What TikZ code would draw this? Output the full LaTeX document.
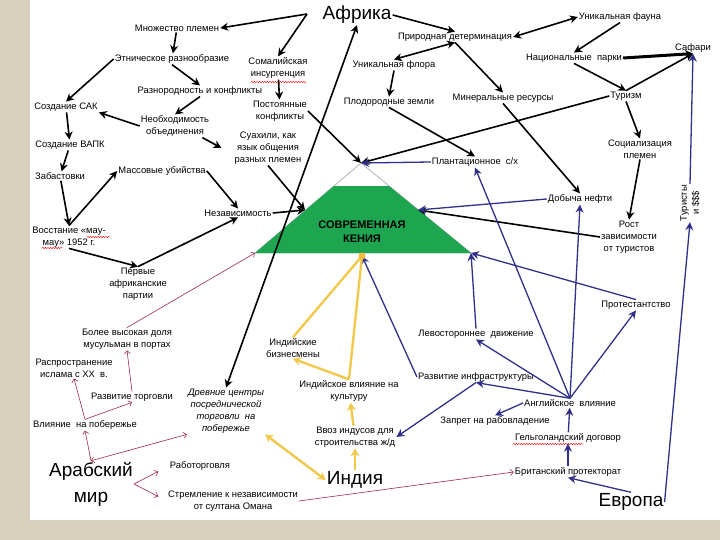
\documentclass[tikz,border=0pt]{standalone}
\usepackage{fontspec}
\setmainfont{Liberation Sans}
\usepackage{tikz}
\usetikzlibrary{arrows.meta,calc,decorations.pathmorphing}
\definecolor{kblue}{HTML}{30308A}
\definecolor{kyellow}{HTML}{F2C94C}
\definecolor{kred}{HTML}{A02846}
\definecolor{kgreen}{HTML}{1EA550}
\definecolor{kbeige}{HTML}{D8CFBD}
\tikzset{
  txt/.style    = {align=center, inner sep=1pt, font=\fontsize{9.4}{12}\selectfont},
  bigtxt/.style = {txt, font=\fontsize{19}{26}\selectfont},
  ittxt/.style  = {txt, font=\fontsize{9.4}{12}\selectfont\itshape},
  blk/.style    = {draw=black, line width=1.6pt, ->, >={Stealth[length=8pt,width=8pt]}},
  blu/.style    = {draw=kblue, line width=1.3pt, ->, >={Stealth[length=8pt,width=8pt]}},
  ylw/.style    = {draw=kyellow, line width=2.4pt, ->, >={Stealth[length=8pt,width=9pt]}},
  rd/.style     = {draw=kred, line width=0.6pt, ->, >={Straight Barb[length=3pt,width=6pt]}},
  squig/.style  = {draw=red, line width=0.4pt, decorate,
                   decoration={snake, amplitude=0.7pt, segment length=2.6pt}}
}

\begin{document}
\begin{tikzpicture}[x=1pt,y=-1pt]
 \useasboundingbox (0,0) rectangle (720,540);
 \fill[kbeige] (0,0) rectangle (30,540);
 \fill[kbeige] (0,520) rectangle (720,540);

 % triangle
 \coordinate (tA) at (361,163);
 \coordinate (tBL) at (255,253);
 \coordinate (tBR) at (471,253);
 \coordinate (tB) at (362,256);
 \coordinate (tLe) at (305,210);
 \coordinate (tRe) at (418,210);
 \coordinate (afrL) at (307,14);
 \draw[gray!60, line width=0.8pt] (tA) -- (tBL) -- (tBR) -- cycle;
 \fill[kgreen] (tBL) -- ($(tBL)!0.744!(tA)$) -- ($(tBR)!0.744!(tA)$) -- (tBR) -- cycle;
 \node[font=\bfseries\fontsize{11}{14}\selectfont, align=center] (kenya) at (362,232) {СОВРЕМЕННАЯ\\КЕНИЯ};

 % Africa
 \node[bigtxt] (afr) at (357,15) {Африка};
 \node[txt] (mnozh) at (177,28) {Множество племен};
 \node[txt] (etnich) at (172,59) {Этническое разнообразие};
 \node[txt] (somal) at (278,68) {Сомалийская\\инсургенция};
 \node[txt] (raznor) at (200,91) {Разнородность и конфликты};
 \node[txt] (sak) at (66,107) {Создание САК};
 \node[txt] (neobh) at (175,126) {Необходимость\\объединения};
 \node[txt] (postoyan) at (280,111) {Постоянные\\конфликты};
 \node[txt] (vapk) at (70,145) {Создание ВАПК};
 \node[txt] (suah) at (268,148) {Суахили, как\\язык общения\\разных племен};
 \node[txt] (zabast) at (60,176) {Забастовки};
 \node[txt] (massov) at (162,171) {Массовые убийства};
 \node[txt] (nezav) at (238,213) {Независимость};
 \node[txt] (vosst) at (69,237) {Восстание «мау-\\мау» 1952 г.};
 \node[txt] (partii) at (138,284) {Первые\\африканские\\партии};
 \node[txt] (prirod) at (455,37) {Природная детерминация};
 \node[txt] (fauna) at (620,17) {Уникальная фауна};
 \node[txt] (flora) at (394,65) {Уникальная флора};
 \node[txt] (parki) at (574,58) {Национальные\ \ парки};
 \node[txt] (safari) at (693,48) {Сафари};
 \node[txt] (plodor) at (389,102) {Плодородные земли};
 \node[txt] (mineral) at (503,98) {Минеральные ресурсы};
 \node[txt] (turizm) at (626,96) {Туризм};
 \node[txt] (plant) at (475,162) {Плантационное\ \ с/х};
 \node[txt] (sotsial) at (640,149) {Социализация\\племен};
 \node[txt] (neft) at (580,199) {Добыча нефти};
 \node[txt] (rost) at (629,237) {Рост\\зависимости\\от туристов};
 \node[txt, rotate=90] (turisty) at (690,203) {Туристы\\и \$\$\$};

 % Europe
 \node[txt] (protest) at (636,305) {Протестантство};
 \node[txt] (levost) at (476,334) {Левостороннее\ \ движение};
 \node[txt] (infra) at (476,377) {Развитие инфраструктуры};
 \node[txt] (angl) at (570,403) {Английское\ \ влияние};
 \node[txt] (zapret) at (495,421) {Запрет на рабовладение};
 \node[txt] (gelgo) at (568,438) {Гельголандский договор};
 \node[txt] (protekt) at (568,472) {Британский протекторат};
 \node[bigtxt] (evropa) at (631,502) {Европа};

 % India
 \node[txt] (indbiz) at (293,348) {Индийские\\бизнесмены};
 \node[txt] (indvl) at (349,391) {Индийское влияние на\\культуру};
 \node[txt] (vvoz) at (355,437) {Ввоз индусов для\\строительства ж/д};
 \node[bigtxt] (india) at (355,480) {Индия};
 \node[ittxt] (drevn) at (226,411) {Древние центры\\посреднической\\торговли\ \ на\\побережье};

 % Arab world
 \node[txt] (musulm) at (127,339) {Более высокая доля\\мусульман в портах};
 \node[txt] (islam) at (74,368) {Распространение\\ислама с XX\ \ в.};
 \node[txt] (torg) at (132,397) {Развитие торговли};
 \node[txt] (vliyan) at (85,425) {Влияние\ \ на побережье};
 \node[bigtxt] (arab) at (91,484) {Арабский\\мир};
 \node[txt] (rabot) at (200,466) {Работорговля};
 \node[txt] (stremlen) at (233,501) {Стремление к независимости\\от султана Омана};

 \draw[squig] (251,82) -- (306,82);
 \draw[squig] (87,237) -- (110,237);
 \draw[squig] (42,248) -- (63,248);
 \draw[squig] (513,444) -- (583,444);

 % black
 \draw[blk] (afrL) -- (mnozh.east);
 \draw[blk] (afrL) -- (somal.north);
 \draw[blk] (mnozh) -- (etnich);
 \draw[blk] (etnich.west) -- (sak.north);
 \draw[blk] (etnich.south) -- (raznor.north);
 \draw[blk] (somal) -- (postoyan);
 \draw[blk] (raznor.south) -- (neobh.north);
 \draw[blk] (neobh.west) -- (sak.south east);
 \draw[blk] (sak) -- (vapk);
 \draw[blk] (vapk) -- (zabast);
 \draw[blk] (zabast) -- (vosst.north);
 \draw[blk] (vosst.north) -- (massov.west);
 \draw[blk] (massov.east) -- (nezav.north);
 \draw[blk] ([xshift=-8pt]neobh.south east) -- ([xshift=-12pt]suah.west);
 \draw[blk] (nezav.east) -- (tLe);
 \draw[blk] (suah.south) -- (tLe);
 \draw[blk] (vosst.south) -- (partii.north);
 \draw[blk] (partii.north) -- (nezav.south);
 \draw[blk] (postoyan.east) -- (tA);
 \draw[blk] (afr.east) -- (prirod.north);
 \draw[blk, <->] (prirod.east) -- (fauna.west);
 \draw[blk] (fauna.south) -- (parki.north);
 \draw[blk, <->] (flora.north) -- (prirod.south);
 \draw[blk] (prirod.south) -- (mineral.north);
 \draw[blk] (flora.south) -- (plodor.north);
 \draw[blk, line width=3pt] (parki.east) -- (safari.south);
 \draw[blk] (parki.south) -- (turizm.north);
 \draw[blk] (turizm.north) -- (safari.south);
 \draw[blk] (turizm.south) -- (sotsial.north);
 \draw[blk] (sotsial.south) -- (rost.north);
 \draw[blk] (turizm.west) -- (tA);
 \draw[blk] (plodor.south) -- (plant.north);
 \draw[blk] (mineral.south) -- (neft.north);
 \draw[blk] (rost.west) -- (tRe);
 \draw[blk, <->] (drevn.north) -- (afr.south);

 % blue
 \draw[blu] (plant.west) -- (tA);
 \draw[blu] (neft.west) -- (tRe);
 \foreach \t in {plant,neft,protest,levost,infra}
  \draw[blu] (angl.north) -- (\t.south);
 \draw[blu] (levost.north) -- (tBR);
 \draw[blu] (protest.north) -- (tBR);
 \draw[blu] (infra.west) -- (tB);
 \draw[blu] (infra.south) -- (vvoz.east);
 \draw[blu] (angl.west) -- (zapret.north);
 \draw[blu] (gelgo) -- (angl);
 \draw[blu] (protekt) -- (gelgo);
 \draw[blu] (evropa.north) -- (protekt.south);
 \draw[blu] (evropa.east) -- (turisty.west);
 \draw[blu] (turisty.east) -- (safari.south);

 % yellow
 \draw[ylw, -] (indbiz.north) -- (tB);
 \draw[ylw, -] (indvl.north) -- (tB);
 \fill[kyellow!80!orange] (tB) circle (3.5);
 \draw[ylw] (indvl.north) -- (indbiz.south);
 \draw[ylw] (vvoz) -- (indvl);
 \draw[ylw] (india) -- (vvoz);
 \draw[ylw, <->] (drevn.south east) -- (india.west);

 % red
 \draw[rd] (musulm.north) -- (tBL);
 \draw[rd] (torg.north) -- (musulm.south);
 \draw[rd] (vliyan.north) -- (islam.south);
 \draw[rd] (vliyan.north) -- (torg.south);
 \draw[rd] (arab.north) -- (vliyan.south);
 \draw[rd, <->] (arab.north) -- (drevn.south west);
 \draw[rd, shorten >=12pt] (arab.east) -- (rabot.west);
 \draw[rd, shorten >=10pt] (arab.east) -- (stremlen.west);
 \draw[rd] (stremlen.east) -- (protekt.west);
\end{tikzpicture}
\end{document}
